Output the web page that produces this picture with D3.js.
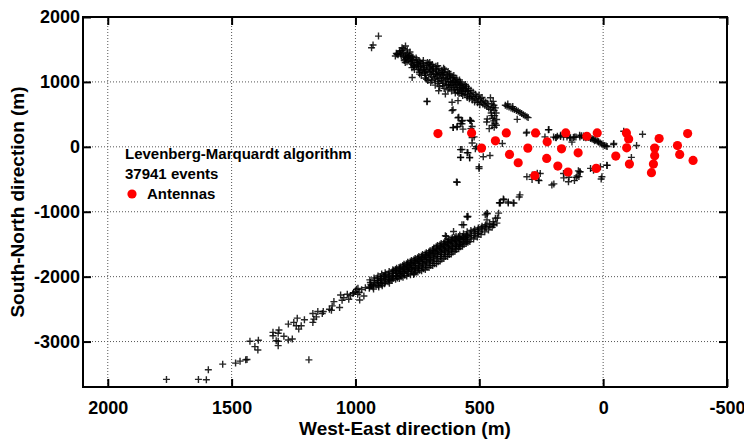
<!DOCTYPE html>
<html>
<head>
<meta charset="utf-8">
<script src="https://cdn.jsdelivr.net/npm/d3@7"></script>
<style>
  body { margin: 0; background: #fff; }
  text { font-family: "Liberation Sans", Arial, Helvetica, sans-serif; font-weight: bold; }
</style>
</head>
<body>
<script>
// canvas size
var width = 744
var height = 440
var margin = {left: 83, top: 17, right: 17, bottom: 53}

// axis ticks
const xTicks = [2000, 1500, 1000, 500, 0, -500]
const yTicks = [2000, 1000, 0, -1000, -2000, -3000]
const xDomain = [2100, -500]
const yDomain = [-3700, 2000]

const legendLines = ["Levenberg-Marquardt algorithm", "37941 events"]
const antennaLabel = "Antennas"

// antenna positions (West-East, South-North) in m
const antennas = [
  [667,204],[531,214],[491,-20],[435,92],[391,214],[378,-117],[343,-245],[304,-20],
  [273,214],[276,-444],[226,77],[228,-179],[183,-296],[168,-31],[151,214],[142,-388],
  [101,-92],[66,163],[24,214],[28,-332],[-51,-143],[-94,214],[-103,122],[-95,-15],
  [-106,-265],[-226,128],[-208,-20],[-208,-138],[-203,-265],[-195,-398],[-341,204],
  [-300,20],[-309,-117],[-363,-209]
]

// reconstructed events, northern branch (dense band + tail)
const eventsNorth = [
  [907,1706],[929,1568],[935,1527],[839,1400],[832,1426],[812,1527],[798,1553],[791,1492],[805,1510],[820,1480],[780,1460],
  [835,1440],[828,1420],[822,1460],[818,1430],[812,1480],[815,1400],[808,1450],
  [805,1400],[800,1350],[796,1420],[792,1310],[788,1380],[785,1340],[798,1380],[790,1440],
  [778,1360],[775,1290],[772,1220],[770,1330],[766,1250],[762,1190],[760,1300],[781,1410],[768,1380],
  [752,1340],[748,1270],[745,1200],[742,1150],[740,1310],[737,1240],[734,1100],[731,1180],[755,1370],[744,1330],
  [728,1290],[724,1220],[720,1130],[717,1060],[714,1260],[711,1190],[708,1020],[705,1280],[726,1330],[716,1160],
  [702,1150],[699,1230],[696,990],[693,1080],[690,1270],[687,1200],[684,1120],[681,1040],[700,1300],[694,1180],
  [678,950],[675,1240],[672,1170],[669,1090],[666,1010],[663,1200],[660,930],[657,1130],[676,1130],[668,1250],
  [654,1060],[651,1180],[648,980],[645,1110],[642,900],[639,1150],[636,1040],[633,960],[650,1140],[644,1210],
  [630,1100],[627,880],[624,1010],[621,1130],[618,940],[615,1060],[612,860],[609,990],[626,1160],[620,1080],
  [606,1070],[603,920],[600,1020],[597,830],[594,960],[591,1040],[588,880],[585,990],[603,1100],[596,1000],
  [582,820],[579,940],[576,1000],[573,860],[570,960],[567,790],[564,900],[561,950],[580,1030],[574,920],
  [558,810],[555,880],[552,930],[549,760],[546,850],[543,900],[540,740],[537,820],[556,960],
  [534,870],[531,780],[528,720],[525,840],[522,760],[519,690],[516,810],[513,740],
  [510,780],[507,680],[504,720],[501,800],[498,650],[495,740],[492,690],[489,760],
  [486,660],[482,710],[478,640],[474,690],[470,620],[466,670],[462,600],
  [455,757],[450,660],[445,610],[440,560],[452,520],[438,480],[446,440],[442,400],[436,360],
  [448,330],[440,300],[432,520],[455,580],[444,700],[430,420],[450,480],[441,640],[435,600],
  [395,640],[388,625],[380,612],[372,600],[365,588],[358,575],[350,560],[343,548],[336,530],
  [329,515],[322,495],[315,478],[308,462],[303,450],[385,660],[365,620],
  [711,696],[610,686],[586,711],[583,456],[536,405],[610,558],[570,355],[771,1068],[664,864],[637,814],
  [711,704],[606,571],[586,449],[606,296],[590,306],[571,398],[538,408],[534,280],[521,153],
  [570,-41],[575,-163],[546,-92],[539,-163],[589,-546],[501,-306],[511,0],[484,-153],[457,-133],
  [468,428],[460,280],[470,383],[431,332],[407,51],[418,-862],[401,-816],[383,-867],[360,-867],
  [336,-740],[546,-1071],[468,-1030],[427,-1097],[347,423],[310,214],
  [605,298],[589,314],[576,360],[568,405],[529,314],[532,395],[566,272],[529,141],[529,58],
  [549,-89],[576,-43],[576,-165],[539,-171],[516,-28],[592,-543],[501,-334],[547,-1083],
  [219,265],[235,153],[185,163],[191,143],[172,179],[132,138],[116,153],[94,153],[78,143],[65,173],
  [286,-434],[266,-408],[259,-520],[199,-571],[159,-479],[138,-469],[116,-520],[105,-449],[94,-383],
  [98,-459],[51,-332],[11,-306],[-16,-286],[8,-495],[-43,51],[-83,240],[-159,194],[-135,20],[-114,-163],
  [95,180],[88,172],[80,165],[72,158],[65,150],[58,142],[50,130],[44,120],[38,112],[30,100],
  [24,88],[18,75],[12,60],[6,45],[0,30],[-6,20],[-12,12],[-16,5],[70,140],[52,140],[35,95],[20,80],
  [200,150],[190,140],[172,160],[160,150],[146,150],[135,140],[120,145],[110,150],
  [308,226],[221,263],[126,73],[267,202],[160,-410],[140,-539],[109,-471],[100,-370],[93,-386],
  [39,-360],[25,-334],[5,-462],[-15,-283],[-42,34],[308,-462],[287,-502],[261,-513],[254,-410],[207,-589]
]

// extra events packed in the dark core of the northern band
const eventsNorthCore = [
  [803,1330],[794,1365],[786,1400],[799,1300],
  [776,1320],[771,1270],[764,1230],[769,1350],[773,1395],
  [750,1300],[746,1230],[739,1170],[735,1280],[741,1120],[753,1250],
  [725,1250],[721,1190],[718,1100],[713,1040],[709,1300],[722,1150],
  [701,1210],[697,1110],[695,1260],[691,1020],[688,1160],[685,1230],
  [677,1060],[674,1200],[671,1110],[667,980],[664,1150],[661,1050],
  [653,1020],[649,1120],[647,940],[643,1070],[640,1190],[635,1000],
  [629,1050],[625,960],[622,910],[619,1110],[616,1000],[611,940],
  [605,990],[601,880],[598,1060],[595,910],[590,960],[587,840],
  [580,890],[577,980],[572,820],[569,910],[565,860],
  [557,850],[553,900],[548,800],[544,870],[539,780]
]

// reconstructed events, southern branch
const eventsSouth = [
  [1763,-3583],[1634,-3583],[1602,-3588],[1594,-3434],[1536,-3348],[1484,-3332],[1466,-3302],
  [1443,-3282],[1438,-3277],[1426,-2996],[1406,-3078],[1394,-3129],[1392,-2980],[1333,-2858],
  [1333,-2910],[1309,-2823],[1312,-2873],[1320,-2987],[1312,-2996],[1312,-3063],[1289,-2919],
  [1271,-2976],[1255,-2961],[1271,-2731],[1249,-2705],[1235,-2639],[1239,-2757],[1229,-2808],
  [1219,-2757],[1206,-2665],[1188,-3282],[1172,-2567],[1168,-2655],[1158,-2619],[1172,-2705],
  [1152,-2537],[1134,-2567],[1130,-2537],[1105,-2502],[1094,-2451],[1087,-2384],[1097,-2517],
  [1060,-2283],[1054,-2364],[1064,-2476],[1047,-2323],[1033,-2272],[1027,-2349],[1007,-2246],
  [991,-2272],[983,-2359],[966,-2298],[996,-2196],[960,-2170],
  [975,-2200],[985,-2240],[990,-2180],[1000,-2230],[1010,-2260],[1020,-2290],
  [944,-2180],[940,-2090],[936,-2140],[942,-2050],
  [929,-2160],[925,-2020],[921,-2100],[927,-2190],
  [913,-2120],[909,-1990],[906,-2160],[911,-2060],
  [898,-2090],[894,-1960],[892,-2140],[897,-2030],
  [883,-2110],[880,-1940],[877,-2050],[882,-1990],
  [868,-2080],[864,-1920],[862,-2010],[867,-1960],[863,-2100],
  [853,-2060],[849,-1895],[847,-1980],[852,-1930],[848,-2030],
  [838,-2040],[834,-1870],[832,-1950],[837,-1910],[833,-2000],
  [823,-2030],[819,-1850],[817,-1920],[822,-1880],[818,-1980],[826,-1960],
  [808,-2010],[804,-1810],[802,-1890],[807,-1850],[803,-1950],[811,-1920],
  [793,-1990],[789,-1780],[787,-1860],[792,-1820],[788,-1920],[796,-1890],
  [778,-1970],[774,-1750],[772,-1830],[777,-1790],[773,-1890],[781,-1860],
  [763,-1950],[759,-1720],[757,-1800],[762,-1760],[758,-1860],[761,-1900],[766,-1830],
  [748,-1930],[744,-1690],[742,-1770],[747,-1730],[743,-1830],[746,-1870],[751,-1800],
  [733,-1910],[729,-1660],[727,-1740],[732,-1700],[728,-1800],[731,-1850],[736,-1770],
  [718,-1890],[714,-1630],[712,-1710],[717,-1670],[713,-1770],[716,-1820],[721,-1740],
  [703,-1860],[699,-1600],[697,-1680],[702,-1640],[698,-1740],[701,-1790],[706,-1710],
  [688,-1830],[684,-1560],[682,-1640],[687,-1600],[683,-1700],[686,-1760],[691,-1680],
  [673,-1800],[669,-1520],[667,-1600],[672,-1560],[668,-1660],[671,-1720],[676,-1640],
  [658,-1760],[654,-1490],[652,-1570],[657,-1530],[653,-1630],[656,-1690],[661,-1610],
  [643,-1720],[639,-1460],[637,-1540],[642,-1500],[638,-1600],[641,-1650],[646,-1580],
  [628,-1690],[624,-1430],[622,-1510],[627,-1470],[623,-1570],[626,-1620],[631,-1550],
  [613,-1650],[609,-1400],[607,-1480],[612,-1440],[608,-1540],[611,-1590],[616,-1520],
  [598,-1610],[594,-1380],[592,-1450],[597,-1420],[593,-1510],[596,-1560],[601,-1490],
  [583,-1570],[579,-1360],[577,-1430],[582,-1400],[578,-1480],[581,-1520],[586,-1460],
  [568,-1530],[564,-1340],[562,-1410],[567,-1380],[563,-1460],[571,-1430],
  [553,-1490],[549,-1310],[547,-1380],[552,-1350],[548,-1430],[556,-1400],
  [538,-1460],[534,-1290],[532,-1360],[537,-1330],[533,-1400],
  [523,-1420],[519,-1270],[517,-1330],[522,-1300],[518,-1370],
  [508,-1390],[504,-1250],[502,-1310],[507,-1280],[503,-1340],
  [493,-1350],[489,-1225],[487,-1280],[492,-1250],
  [478,-1310],[474,-1200],[472,-1250],[477,-1220],
  [463,-1280],[459,-1180],[457,-1230],
  [448,-1240],[444,-1155],[442,-1200],
  [476,-1048],[469,-1125],[435,-1099],[429,-1175],[422,-1022],[442,-1201],[469,-1022],
  [550,-1074],[570,-1201],[604,-1304],[637,-1369],[563,-1201],[633,-1380],[765,-1966],
  [419,-864],[415,-864],[403,-803],[383,-849],[363,-864],[339,-773],[899,-2043],[886,-1992]
]

// extra events packed in the dark core of the southern band
const eventsSouthCore = [
  [938,-2120],[943,-2160],[923,-2060],[928,-2130],
  [908,-2090],[912,-2020],[907,-2140],[896,-2060],[893,-2110],[899,-2000],
  [879,-2080],[881,-2020],[878,-1970],[866,-2040],[865,-1990],[861,-2060],
  [851,-2000],[850,-1950],[846,-1910],[836,-1980],[835,-1930],[831,-2020],[839,-1890],
  [821,-1950],[820,-1900],[816,-2000],[824,-1860],[806,-1930],[805,-1870],[801,-1980],[809,-1830],
  [791,-1900],[790,-1840],[786,-1950],[794,-1800],[776,-1870],[775,-1810],[771,-1920],[779,-1770],
  [760,-1880],[760,-1780],[756,-1930],[764,-1740],[745,-1850],[745,-1750],[741,-1900],[749,-1710],
  [730,-1820],[730,-1720],[726,-1880],[734,-1680],[715,-1790],[715,-1690],[711,-1860],[719,-1650],
  [700,-1760],[700,-1660],[696,-1830],[704,-1620],[685,-1730],[685,-1620],[681,-1800],[689,-1580],
  [670,-1690],[670,-1580],[666,-1770],[674,-1540],[655,-1660],[655,-1550],[651,-1730],[659,-1510],
  [640,-1620],[640,-1520],[636,-1690],[644,-1480],[625,-1590],[625,-1490],[621,-1660],[629,-1450],
  [610,-1560],[610,-1460],[606,-1620],[614,-1420],[595,-1530],[595,-1440],[591,-1580],[599,-1400],
  [580,-1500],[580,-1420],[576,-1540],[584,-1380],[566,-1480],[565,-1400],[561,-1500],
  [551,-1450],[550,-1370],[546,-1470]
]

const svg = d3.select("body").append("svg")
  .attr("width", width)
  .attr("height", height)

var pw = width - margin.left - margin.right
var ph = height - margin.top - margin.bottom

var x = d3.scaleLinear().domain(xDomain).range([0, pw])
var y = d3.scaleLinear().domain(yDomain).range([ph, 0])

var g = svg.append("g").attr("transform", "translate(" + margin.left + "," + margin.top + ")")

// dotted grid
g.selectAll(".gx").data(xTicks).enter().append("line")
  .attr("x1", d => x(d)).attr("x2", d => x(d))
  .attr("y1", 0).attr("y2", ph)
  .attr("stroke", "#555").attr("stroke-width", 1).attr("stroke-dasharray", "1,2")
g.selectAll(".gy").data(yTicks).enter().append("line")
  .attr("x1", 0).attr("x2", pw)
  .attr("y1", d => y(d)).attr("y2", d => y(d))
  .attr("stroke", "#555").attr("stroke-width", 1).attr("stroke-dasharray", "1,2")

// events as + markers
var events = eventsNorth.concat(eventsNorthCore, eventsSouth, eventsSouthCore)
var cross = "M-3.5,0H3.5M0,-3.5V3.5"
g.selectAll(".ev").data(events).enter().append("path")
  .attr("d", cross)
  .attr("transform", d => "translate(" + x(d[0]) + "," + y(d[1]) + ")")
  .attr("stroke", "#000").attr("stroke-width", 1.4).attr("opacity", 0.85)
  .attr("fill", "none")

// antennas
g.selectAll(".ant").data(antennas).enter().append("circle")
  .attr("cx", d => x(d[0])).attr("cy", d => y(d[1]))
  .attr("r", 4.6).attr("fill", "#ff0000")

// axes (ticks inward, mirrored), plain hyphen for negatives
var fmt = d => String(d)
var tickLen = 8
g.append("g").attr("transform", "translate(0," + ph + ")")
  .call(d3.axisBottom(x).tickValues(xTicks).tickSize(-tickLen).tickPadding(14).tickFormat(fmt))
g.append("g")
  .call(d3.axisTop(x).tickValues(xTicks).tickSize(-tickLen).tickFormat(""))
g.append("g")
  .call(d3.axisLeft(y).tickValues(yTicks).tickSize(-tickLen).tickPadding(3).tickFormat(fmt))
g.append("g").attr("transform", "translate(" + pw + ",0)")
  .call(d3.axisRight(y).tickValues(yTicks).tickSize(-tickLen).tickFormat(""))

g.selectAll(".domain").remove()
g.selectAll(".tick line").attr("stroke", "#000").attr("stroke-width", 2)
g.selectAll(".tick text").attr("font-size", "18px").attr("fill", "#000")
  .attr("font-family", "'Liberation Sans', Arial, sans-serif").attr("font-weight", "bold")

g.append("rect").attr("width", pw).attr("height", ph)
  .attr("fill", "none").attr("stroke", "#000").attr("stroke-width", 2)

// axis titles
svg.append("text")
  .attr("x", margin.left + pw / 2).attr("y", 435)
  .attr("text-anchor", "middle").attr("font-size", "19px")
  .text("West-East direction (m)")
svg.append("text")
  .attr("transform", "translate(24," + (margin.top + ph / 2) + ") rotate(-90)")
  .attr("text-anchor", "middle").attr("font-size", "19px")
  .text("South-North direction (m)")

// legend
svg.selectAll(".lg").data(legendLines).enter().append("text")
  .attr("x", 125).attr("y", (d, i) => 159 + i * 20)
  .attr("font-size", "15px")
  .text(d => d)
svg.append("circle").attr("cx", 132).attr("cy", 194).attr("r", 4.6).attr("fill", "#ff0000")
svg.append("text").attr("x", 147).attr("y", 199).attr("font-size", "15px").text(antennaLabel)
</script>
</body>
</html>
